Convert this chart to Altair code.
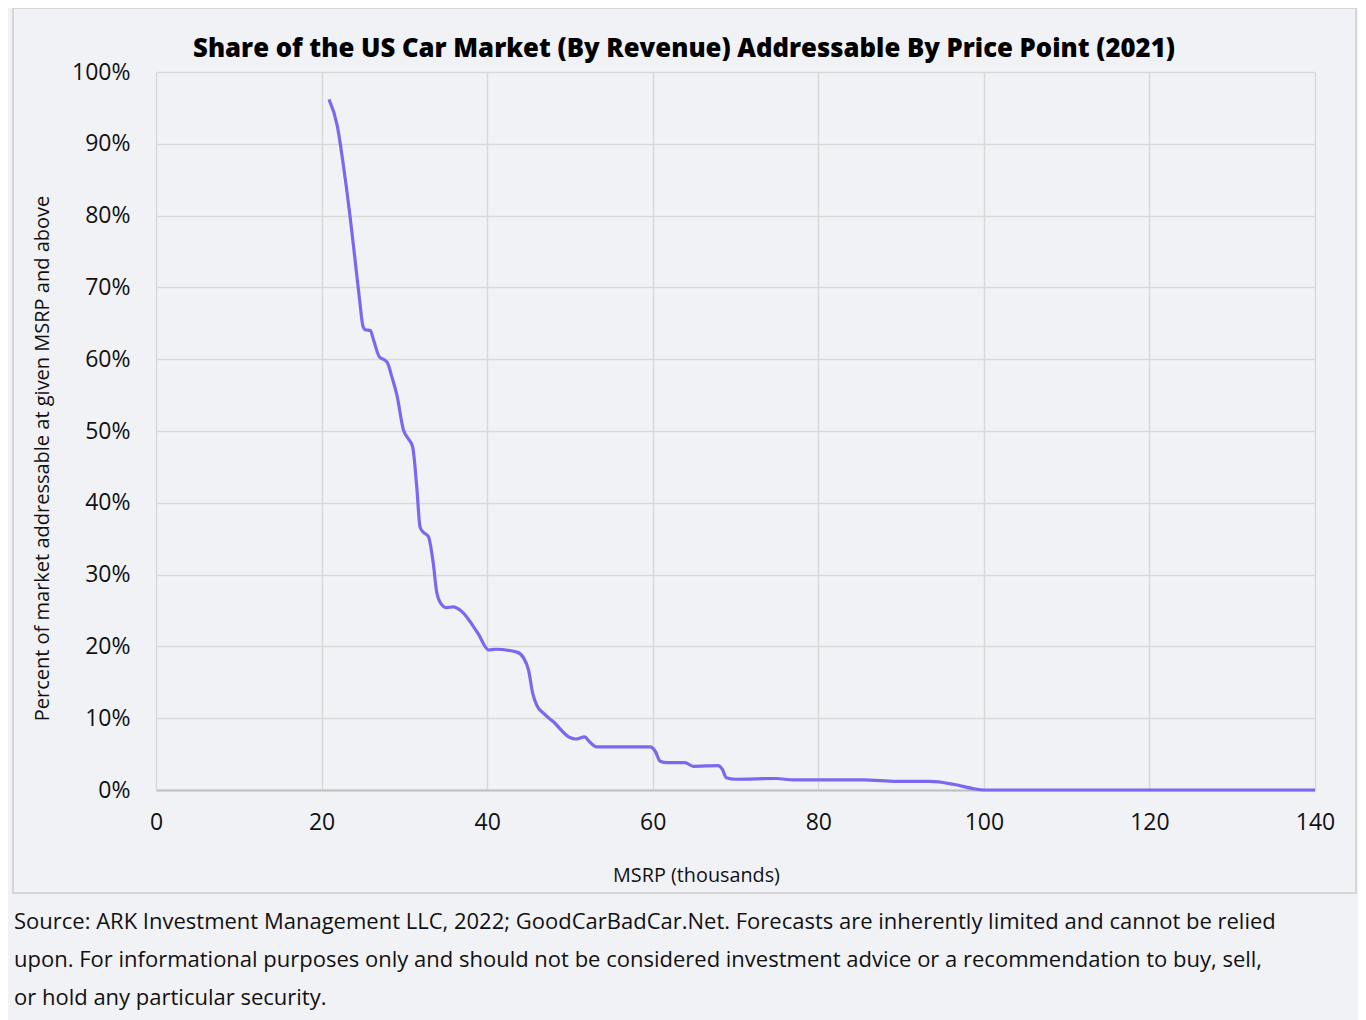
import altair as alt
import pandas as pd

msrp = [20.9, 21.9, 22.6, 23.4, 24.0, 24.6, 25.0, 25.3, 25.9, 26.2, 27.0, 27.6, 28.0, 28.5,
        29.1, 29.9, 30.5, 31.0, 31.5, 31.9, 32.3, 32.9, 33.5, 33.9, 34.4, 35.1, 35.9, 36.9,
        38.9, 40.2, 41.0, 43.6, 44.4, 45.0, 45.5, 46.0, 46.8, 48.0, 50.0, 50.7, 51.8, 52.3,
        53.2, 56.0, 59.7, 60.3, 60.9, 61.8, 63.9, 64.9, 67.9, 68.4, 68.9, 70.0, 74.9, 77.0,
        85.4, 89.5, 93.5, 96.3, 98.7, 100.0, 120.0, 140.0]
share = [96.2, 92.5, 87.3, 80.3, 74.3, 68.2, 64.6, 64.1, 64.0, 63.0, 60.3, 59.9, 59.4, 57.5,
         55.0, 50.1, 48.9, 47.8, 42.2, 36.6, 35.9, 35.3, 31.5, 27.6, 26.0, 25.4, 25.5, 24.9,
         21.8, 19.5, 19.6, 19.2, 18.4, 16.7, 13.5, 11.8, 10.7, 9.5, 7.3, 7.1, 7.4, 6.8,
         6.0, 6.0, 6.0, 5.4, 4.0, 3.8, 3.8, 3.3, 3.4, 2.9, 1.7, 1.5, 1.6, 1.4,
         1.4, 1.2, 1.2, 0.8, 0.2, 0.0, 0.0, 0.0]

title_text = "Share of the US Car Market (By Revenue) Addressable By Price Point (2021)"
x_title = "MSRP (thousands)"
y_title = "Percent of market addressable at given MSRP and above"
footnote = [
    "Source: ARK Investment Management LLC, 2022; GoodCarBadCar.Net. Forecasts are inherently limited and cannot be relied",
    "upon. For informational purposes only and should not be considered investment advice or a recommendation to buy, sell,",
    "or hold any particular security.",
]

FONT = "Open Sans"
df = pd.DataFrame({"msrp": msrp, "share": [v / 100 for v in share]})

line = alt.Chart(df).mark_line(
    color="#7b68ee", strokeWidth=3.2, interpolate="monotone"
).encode(
    x=alt.X("msrp:Q", scale=alt.Scale(domain=[0, 140], nice=False),
            axis=alt.Axis(values=[0, 20, 40, 60, 80, 100, 120, 140], title=x_title,
                          titleX=540, titleY=85, titleBaseline="middle",
                          titleFontSize=19.8, titleFontWeight="normal",
                          labelFontSize=23, labelPadding=21, tickSize=0, labelFlush=False,
                          domain=True, domainColor="#bfbfbf", domainWidth=2,
                          grid=True, gridColor="#d9d9d9", gridWidth=1.5)),
    y=alt.Y("share:Q", scale=alt.Scale(domain=[0, 1], nice=False),
            axis=alt.Axis(values=[i / 10 for i in range(11)], format=".0%", title=y_title,
                          titleX=-114, titleY=386, titleBaseline="middle",
                          titleFontSize=20, titleFontWeight="normal",
                          labelFontSize=23, labelPadding=26, tickSize=0,
                          domain=False, grid=True, gridColor="#d9d9d9", gridWidth=1.5)),
)

base = alt.Chart(alt.Data(values=[{"a": 1}]))

frame = base.mark_rect(fillOpacity=0, stroke="#d6d6d6", strokeWidth=2).encode(
    x=alt.value(-143), x2=alt.value(1200), y=alt.value(-64), y2=alt.value(821)
)

title = base.mark_text(
    text=title_text, font=FONT, fontSize=25.7, fontWeight=800, color="#000000",
    align="center", baseline="middle"
).encode(x=alt.value(528), y=alt.value(-23))

foot = base.mark_text(
    text=footnote, font=FONT, fontSize=22, color="#111111",
    align="left", baseline="middle", lineHeight=38
).encode(x=alt.value(-142), y=alt.value(850))

chart = alt.layer(frame, line, title, foot).properties(
    width=1159, height=718,
    autosize=alt.AutoSizeParams(type="none"),
    padding={"left": 148, "top": 64, "right": 43, "bottom": 232},
    background="#f1f2f6",
).configure_view(stroke=None).configure_axis(
    labelFont=FONT, titleFont=FONT, labelColor="#111111", titleColor="#111111"
)

chart.save("out.html", embed_options={"renderer": "svg", "actions": False})
